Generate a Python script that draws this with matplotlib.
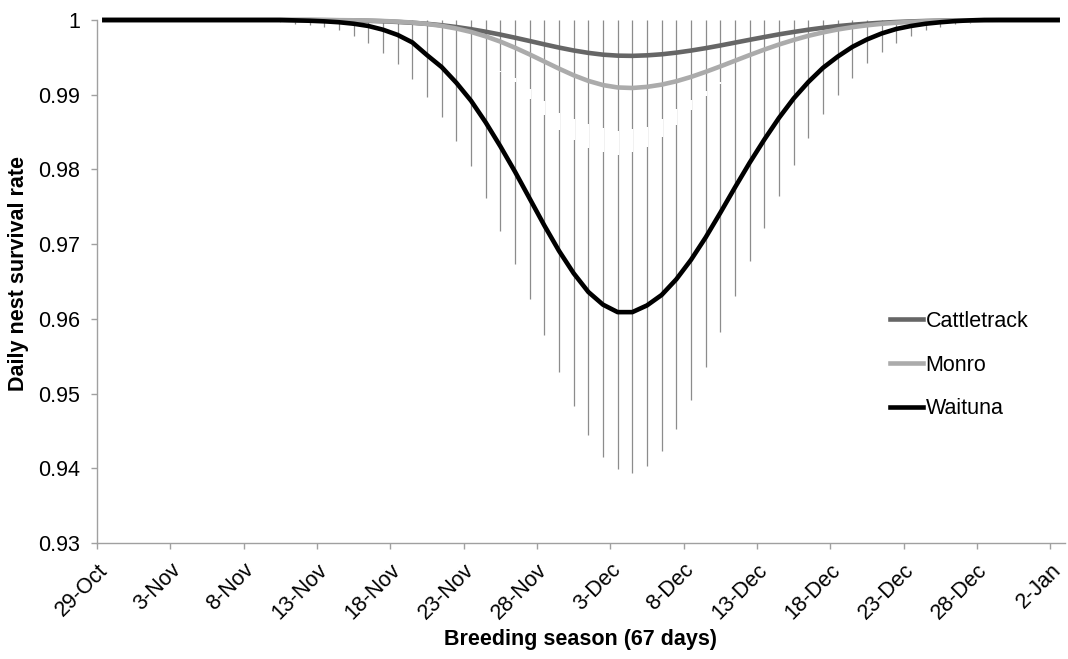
import numpy as np
import matplotlib.pyplot as plt
import matplotlib.transforms as mtransforms

plt.rcParams['font.family'] = ['Liberation Sans', 'DejaVu Sans']

# x tick labels every 5 days from 29-Oct
tick_days = [0, 5, 10, 15, 20, 25, 30, 35, 40, 45, 50, 55, 60, 65]
tick_labels = ['29-Oct', '3-Nov', '8-Nov', '13-Nov', '18-Nov', '23-Nov', '28-Nov',
               '3-Dec', '8-Dec', '13-Dec', '18-Dec', '23-Dec', '28-Dec', '2-Jan']

# daily survival estimates (one per day, 66 days)
cattletrack = [1.0] * 15 + [
    0.99998, 0.99996, 0.99993, 0.99989, 0.99983, 0.99974, 0.99963, 0.99949, 0.9993, 0.99906,
    0.99877, 0.99843, 0.99805, 0.99763, 0.99719, 0.99674, 0.99631, 0.99592, 0.9956, 0.99536,
    0.99523, 0.9952, 0.99527, 0.99541, 0.99563, 0.99591, 0.99623, 0.99659, 0.99697, 0.99735,
    0.99772, 0.99808, 0.9984, 0.9987, 0.99896, 0.99918, 0.99936, 0.99951, 0.99964, 0.99973,
    0.99981, 0.99987, 0.99991, 0.99994, 0.99996, 0.99998] + [1.0] * 5

monro = [1.0] * 16 + [
    0.99998, 0.99996, 0.99993, 0.99987, 0.99978, 0.99966, 0.99947, 0.99921, 0.99886, 0.9984,
    0.99781, 0.99711, 0.99629, 0.99539, 0.99444, 0.99349, 0.9926, 0.99185, 0.99129, 0.99097,
    0.9909, 0.99105, 0.99135, 0.9918, 0.99238, 0.99306, 0.99379, 0.99455, 0.99531, 0.99604,
    0.99672, 0.99733, 0.99788, 0.99834, 0.99873, 0.99904, 0.99929, 0.99949, 0.99964, 0.99975,
    0.99983, 0.99989, 0.99993, 0.99996, 0.99998] + [1.0] * 5

waituna = [1.0] * 13 + [
    0.99995, 0.9999, 0.99982, 0.9997, 0.9995, 0.9992, 0.9987, 0.998, 0.997, 0.9953,
    0.9937, 0.9916, 0.9892, 0.9863, 0.9831, 0.9797, 0.9761, 0.9725, 0.9691, 0.9661,
    0.9636, 0.9619, 0.9609, 0.9609, 0.9618, 0.9632, 0.9653, 0.9679, 0.9709, 0.9742,
    0.9776, 0.9809, 0.984, 0.9869, 0.9895, 0.9917, 0.9936, 0.9951, 0.9964, 0.9974,
    0.9982, 0.9988, 0.9992, 0.9995, 0.9997, 0.99985, 0.99995] + [1.0] * 6

# lower confidence limit for Waituna (upper limit sits at 1)
waituna_lo = [1.0] * 10 + [
    0.99995, 0.99985, 0.9997, 0.9995, 0.9993, 0.999, 0.9986, 0.9979, 0.9969, 0.9956,
    0.9941, 0.9921, 0.9897, 0.987, 0.9838, 0.9804, 0.9762, 0.9718, 0.9673, 0.9626,
    0.9578, 0.9529, 0.9483, 0.9444, 0.9415, 0.9399, 0.9394, 0.9403, 0.9423, 0.9453,
    0.9491, 0.9535, 0.9582, 0.963, 0.9677, 0.9722, 0.9765, 0.9806, 0.9842, 0.9874,
    0.99, 0.9923, 0.9942, 0.9957, 0.9969, 0.9979, 0.9986, 0.9991, 0.9994, 0.9996,
    0.9998, 0.9999] + [1.0] * 4

# lower limits of Monro / Cattletrack where they differ (days 27-42)
gap_start = 27
monro_lo = [0.9932, 0.9922, 0.9908, 0.9892, 0.9876, 0.9867, 0.9861, 0.9855,
            0.9852, 0.9854, 0.9857, 0.9868, 0.9881, 0.9893, 0.9905, 0.9917]
cattle_lo = [0.993, 0.9917, 0.9894, 0.9873, 0.9853, 0.984, 0.9829, 0.9823,
             0.9819, 0.9823, 0.983, 0.9844, 0.9859, 0.988, 0.9898, 0.9914]

days = np.arange(len(waituna)) + 0.5
gap_days = days[gap_start:gap_start + len(monro_lo)]

fig = plt.figure(figsize=(10.68, 6.59), dpi=100)
ax = fig.add_axes([97 / 1068, 1 - 543 / 659, 968 / 1068, 523 / 659])

# error bars
ax.vlines(days, waituna_lo, 1.0, color='#8c8c8c', lw=0.9, zorder=1)
ax.vlines(gap_days, cattle_lo, monro_lo, color='white', lw=1.6, zorder=2)

ax.plot(days, cattletrack, color='#666666', lw=3.3, label='Cattletrack', zorder=3, clip_on=False)
ax.plot(days, monro, color='#ababab', lw=3.3, label='Monro', zorder=3, clip_on=False)
ax.plot(days, waituna, color='black', lw=3.3, label='Waituna', zorder=4, clip_on=False)

ax.set_xlim(0, 66)
ax.set_ylim(0.93, 1.0)
ax.set_yticks([0.93, 0.94, 0.95, 0.96, 0.97, 0.98, 0.99, 1.0])
ax.set_yticklabels(['0.93', '0.94', '0.95', '0.96', '0.97', '0.98', '0.99', '1'])
ax.set_xticks(tick_days)
ax.set_xticklabels(tick_labels, rotation=45, ha='right', va='top', rotation_mode='anchor')
offset = mtransforms.ScaledTranslation(10 / 100, 0, fig.dpi_scale_trans)
for lab in ax.get_xticklabels():
    lab.set_transform(lab.get_transform() + offset)

for s in ['top', 'right']:
    ax.spines[s].set_visible(False)
for s in ['left', 'bottom']:
    ax.spines[s].set_color('#a0a0a0')
    ax.spines[s].set_linewidth(1.0)
ax.tick_params(axis='y', length=4.5, width=1, color='#a0a0a0', labelsize=15.5, pad=7.5)
ax.tick_params(axis='x', length=4, width=1, color='#a0a0a0', labelsize=15.5, pad=8)

ax.set_xlabel('Breeding season (67 days)', fontsize=15.5, fontweight='bold')
ax.xaxis.set_label_coords(0.5, -0.165)
ax.set_ylabel('Daily nest survival rate', fontsize=15.5, fontweight='bold')
ax.yaxis.set_label_coords(-0.070, 0.516)

ax.legend(loc='center left', bbox_to_anchor=(890 / 1068, 1 - 365 / 659),
          bbox_transform=fig.transFigure, frameon=False, fontsize=15.5,
          handlelength=1.55, handletextpad=0.1, labelspacing=1.05,
          borderpad=0, borderaxespad=0)

fig.savefig('out.png', dpi=100)
